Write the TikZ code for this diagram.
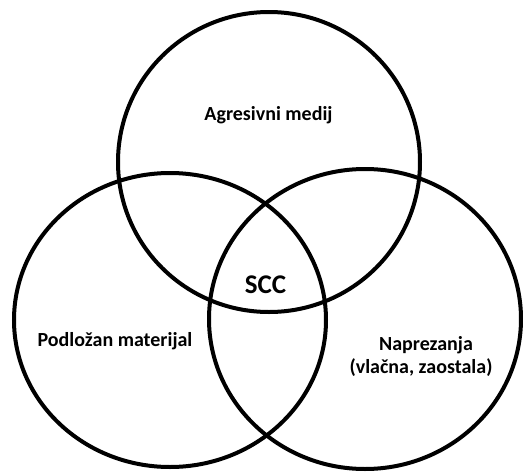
\documentclass[tikz,border=0pt]{standalone}
\usepackage{fontspec}
\setmainfont{Carlito}
\begin{document}
\begin{tikzpicture}[x=1pt,y=-1pt,
  ring/.style={draw=black,line width=4pt},
  lbl/.style={font=\bfseries\fontsize{20}{24}\selectfont,inner sep=0pt,anchor=base},
  big/.style={font=\bfseries\fontsize{27}{30}\selectfont,inner sep=0pt,anchor=base}]
\useasboundingbox (0,0) rectangle (523,472);
\draw[ring] (269,162) ellipse [x radius=151, y radius=150];
\draw[ring] (170,320) ellipse [x radius=156, y radius=147];
\draw[ring] (365,319) ellipse [x radius=156, y radius=150];
\node[lbl] (agr) at (268.5,120) {Agresivni medij};
\node[big] (scc) at (265.5,293) {SCC};
\node[lbl] (pod) at (115,346) {Podložan materijal};
\node[lbl] (nap) at (426,350) {Naprezanja};
\node[lbl] (vla) at (421,373) {(vlačna, zaostala)};
\end{tikzpicture}
\end{document}
